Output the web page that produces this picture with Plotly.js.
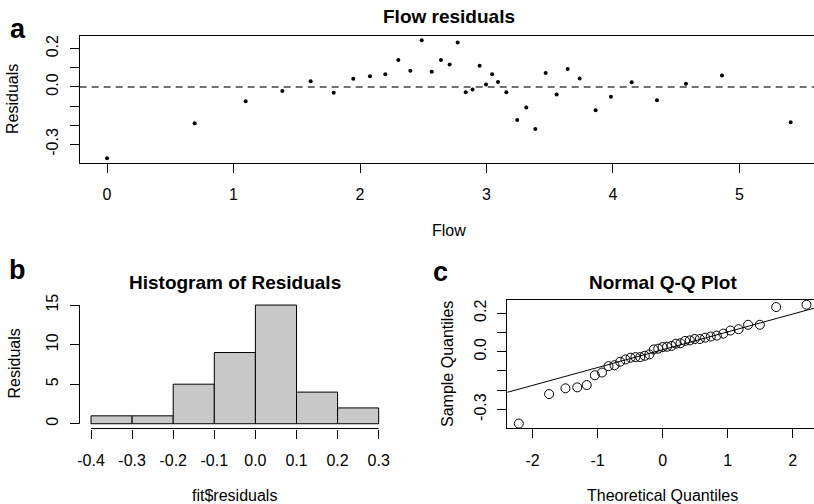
<!DOCTYPE html>
<html>
<head>
<meta charset="utf-8">
<script src="https://cdn.plot.ly/plotly-3.0.1.min.js"></script>
<style>
  html, body { margin: 0; padding: 0; overflow: hidden; background: #fff; }
  #wrap { width: 814px; height: 504px; overflow: hidden; }
  #plot { width: 824px; height: 504px; }
</style>
</head>
<body>
<div id="wrap"><div id="plot"></div></div>
<script>
// ---- data ----
const flow = [0, 0.693, 1.096, 1.386, 1.61, 1.792, 1.947, 2.079, 2.2, 2.303, 2.398, 2.488, 2.567, 2.64, 2.709, 2.772, 2.836, 2.89, 2.946, 2.996, 3.045, 3.091, 3.157, 3.243, 3.315, 3.386, 3.468, 3.555, 3.642, 3.737, 3.863, 3.984, 4.148, 4.348, 4.577, 4.862, 5.405];
const residuals = [-0.373, -0.190, -0.075, -0.021, 0.030, -0.031, 0.042, 0.056, 0.066, 0.140, 0.084, 0.244, 0.079, 0.140, 0.117, 0.232, -0.028, -0.014, 0.110, 0.012, 0.066, 0.026, -0.028, -0.173, -0.108, -0.220, 0.073, -0.040, 0.094, 0.044, -0.122, -0.052, 0.024, -0.070, 0.016, 0.059, -0.185];
const histBreaks = [-0.4, -0.3, -0.2, -0.1, 0.0, 0.1, 0.2, 0.3];
const histCounts = [1, 1, 5, 9, 15, 4, 2];
const theoreticalQuantiles = [-2.211, -1.745, -1.494, -1.313, -1.167, -1.042, -0.932, -0.832, -0.740, -0.653, -0.572, -0.493, -0.418, -0.345, -0.274, -0.204, -0.136, -0.068, 0, 0.068, 0.136, 0.204, 0.274, 0.345, 0.418, 0.493, 0.572, 0.653, 0.740, 0.832, 0.932, 1.042, 1.167, 1.313, 1.494, 1.745, 2.211];

const flowTicks = [0, 1, 2, 3, 4, 5];
const resTicks = [-0.3, -0.2, -0.1, 0.0, 0.1, 0.2];
const resTickText = ['-0.3', '', '', '0.0', '', '0.2'];
const histXTickText = ['-0.4', '-0.3', '-0.2', '-0.1', '0.0', '0.1', '0.2', '0.3'];
const histYTicks = [0, 5, 10, 15];
const qqXTicks = [-2, -1, 0, 1, 2];

// ---- helpers ----
const W = 824, H = 504;
const fx = p => p / W;
const fy = p => 1 - p / H;
const ext = (arr) => { const lo = Math.min(...arr), hi = Math.max(...arr), d = (hi - lo) * 0.04; return [lo - d, hi + d]; };

const sorted = residuals.slice().sort((a, b) => a - b);
function quantile7(a, p) { const h = (a.length - 1) * p; const lo = Math.floor(h); return a[lo] + (h - lo) * (a[Math.min(lo + 1, a.length - 1)] - a[lo]); }
const q1 = quantile7(sorted, 0.25), q3 = quantile7(sorted, 0.75);
const z = 0.6744898;
const slope = (q3 - q1) / (2 * z);
const intercept = q1 + z * slope;
const lineX = [-3, 3];
const lineY = lineX.map(v => intercept + slope * v);

const mids = histCounts.map((c, i) => (histBreaks[i] + histBreaks[i + 1]) / 2);
const bw = histBreaks[1] - histBreaks[0];

const FONT = 'Liberation Sans, Arial, Helvetica, sans-serif';
const tickFont = { family: FONT, size: 16, color: '#000' };
const LAB = 16, MAIN = 19, LET = 27;

const traces = [
  { type: 'scatter', mode: 'markers', x: flow, y: residuals, xaxis: 'x', yaxis: 'y',
    marker: { color: '#000', size: 4 }, hoverinfo: 'none' },
  { type: 'bar', x: mids, y: histCounts, width: bw, xaxis: 'x2', yaxis: 'y2',
    marker: { color: '#C8C8C8', line: { color: '#000', width: 1 } }, hoverinfo: 'none' },
  { type: 'scatter', mode: 'lines', x: lineX, y: lineY, xaxis: 'x3', yaxis: 'y3',
    line: { color: '#000', width: 1 }, hoverinfo: 'none' },
  { type: 'scatter', mode: 'markers', x: theoreticalQuantiles, y: sorted, xaxis: 'x3', yaxis: 'y3',
    marker: { symbol: 'circle-open', color: '#000', size: 9, line: { width: 1, color: '#000' } }, hoverinfo: 'none' }
];

const boxAxis = { showline: true, mirror: true, linecolor: '#000', linewidth: 1, showgrid: false, zeroline: false,
  ticks: 'outside', ticklen: 9, tickwidth: 1, tickcolor: '#000', tickfont: tickFont, tickmode: 'array', fixedrange: true };
const openAxis = Object.assign({}, boxAxis, { showline: false, mirror: false });
const XS = 8, YS = 5;

const layout = {
  width: W, height: H, margin: { l: 0, r: 0, t: 0, b: 0 },
  paper_bgcolor: '#fff', plot_bgcolor: '#fff', showlegend: false, bargap: 0,
  font: { family: FONT, color: '#000' },
  xaxis: Object.assign({}, boxAxis, { domain: [fx(79.7), fx(818)], range: ext(flow), anchor: 'y',
    tickvals: flowTicks, ticktext: flowTicks.map(String), ticklabelstandoff: XS }),
  yaxis: Object.assign({}, boxAxis, { domain: [fy(163), fy(35.5)], range: ext(residuals), anchor: 'x',
    tickvals: resTicks, ticktext: resTickText, tickangle: -90, ticklabelstandoff: YS }),
  xaxis2: Object.assign({}, openAxis, { domain: [fx(79.5), fx(390.2)], range: ext(histBreaks), anchor: 'y2',
    tickvals: histBreaks, ticktext: histXTickText, ticklabelstandoff: XS }),
  yaxis2: Object.assign({}, openAxis, { domain: [fy(428.5), fy(300.3)], range: ext([0, Math.max(...histCounts)]), anchor: 'x2',
    tickvals: histYTicks, ticktext: histYTicks.map(String), tickangle: -90, ticklabelstandoff: YS }),
  xaxis3: Object.assign({}, boxAxis, { domain: [fx(507.3), fx(818)], range: ext(theoreticalQuantiles), anchor: 'y3',
    tickvals: qqXTicks, ticktext: qqXTicks.map(String), ticklabelstandoff: XS }),
  yaxis3: Object.assign({}, boxAxis, { domain: [fy(428.3), fy(300)], range: ext(sorted), anchor: 'x3',
    tickvals: resTicks, ticktext: resTickText, tickangle: -90, ticklabelstandoff: YS }),
  shapes: [
    { type: 'line', xref: 'x domain', yref: 'y', x0: 0, x1: 1, y0: 0, y1: 0,
      line: { color: '#444', width: 1.5, dash: '7px,5px' } },
    { type: 'line', xref: 'x2', yref: 'y2 domain', x0: histBreaks[0], x1: histBreaks[histBreaks.length - 1], y0: 0, y1: 0,
      line: { color: '#000', width: 1 } },
    { type: 'line', xref: 'x2 domain', yref: 'y2', x0: 0, x1: 0, y0: histYTicks[0], y1: histYTicks[histYTicks.length - 1],
      line: { color: '#000', width: 1 } }
  ],
  annotations: [
    { text: '<b>a</b>', x: fx(18), y: fy(29), xref: 'paper', yref: 'paper', showarrow: false, xanchor: 'center', yanchor: 'middle', font: { size: LET, family: FONT } },
    { text: '<b>b</b>', x: fx(17), y: fy(269.5), xref: 'paper', yref: 'paper', showarrow: false, xanchor: 'center', yanchor: 'middle', font: { size: LET, family: FONT } },
    { text: '<b>c</b>', x: fx(440), y: fy(271.5), xref: 'paper', yref: 'paper', showarrow: false, xanchor: 'center', yanchor: 'middle', font: { size: LET, family: FONT } },
    { text: '<b>Flow residuals</b>', x: fx(448.9), y: fy(17), xref: 'paper', yref: 'paper', showarrow: false, xanchor: 'center', yanchor: 'middle', font: { size: MAIN, family: FONT } },
    { text: '<b>Histogram of Residuals</b>', x: fx(234.9), y: fy(282), xref: 'paper', yref: 'paper', showarrow: false, xanchor: 'center', yanchor: 'middle', font: { size: MAIN, family: FONT } },
    { text: '<b>Normal Q-Q Plot</b>', x: fx(662.7), y: fy(282), xref: 'paper', yref: 'paper', showarrow: false, xanchor: 'center', yanchor: 'middle', font: { size: MAIN, family: FONT } },
    { text: 'Flow', x: fx(448.9), y: fy(231), xref: 'paper', yref: 'paper', showarrow: false, xanchor: 'center', yanchor: 'middle', font: { size: LAB, family: FONT } },
    { text: 'fit$residuals', x: fx(234.9), y: fy(495), xref: 'paper', yref: 'paper', showarrow: false, xanchor: 'center', yanchor: 'middle', font: { size: LAB, family: FONT } },
    { text: 'Theoretical Quantiles', x: fx(662.7), y: fy(495), xref: 'paper', yref: 'paper', showarrow: false, xanchor: 'center', yanchor: 'middle', font: { size: LAB, family: FONT } },
    { text: 'Residuals', x: fx(13), y: fy(99), xref: 'paper', yref: 'paper', showarrow: false, xanchor: 'center', yanchor: 'middle', textangle: -90, font: { size: LAB, family: FONT } },
    { text: 'Residuals', x: fx(13.5), y: fy(364), xref: 'paper', yref: 'paper', showarrow: false, xanchor: 'center', yanchor: 'middle', textangle: -90, font: { size: LAB, family: FONT } },
    { text: 'Sample Quantiles', x: fx(447), y: fy(364), xref: 'paper', yref: 'paper', showarrow: false, xanchor: 'center', yanchor: 'middle', textangle: -90, font: { size: LAB, family: FONT } }
  ]
};

Plotly.newPlot('plot', traces, layout, { displayModeBar: false, staticPlot: true });
</script>
</body>
</html>
